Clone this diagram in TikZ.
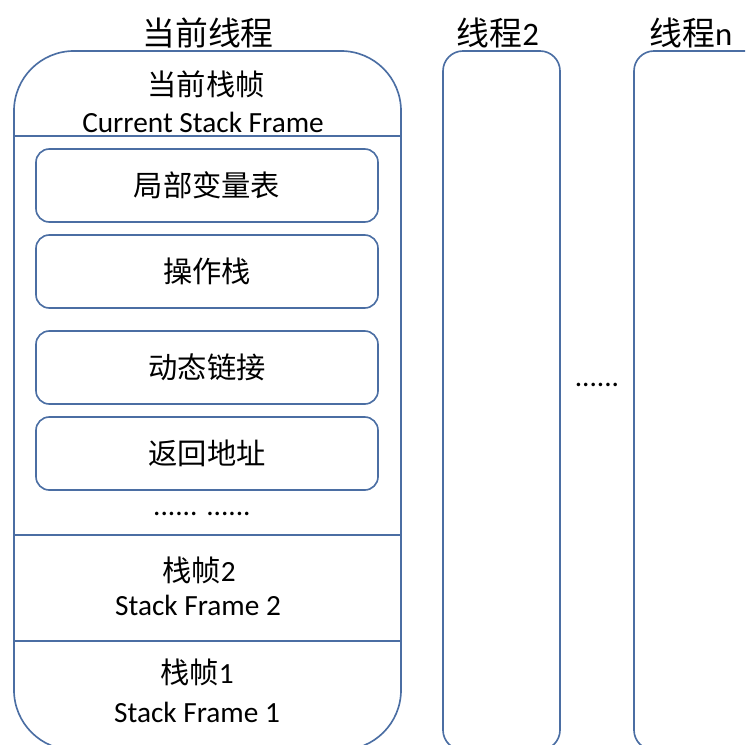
\documentclass[tikz,border=0pt]{standalone}
\usepackage{fontspec}
\setmainfont{Carlito}
\newfontfamily\cjk{Noto Sans CJK SC}
\definecolor{lineblue}{RGB}{75,110,163}
\begin{document}
\begin{tikzpicture}[x=0.03cm,y=-0.03cm]
\tikzset{
  framebox/.style={draw=lineblue, line width=1.4pt, inner sep=0pt},
  itembox/.style={draw=lineblue, line width=1.4pt, rounded corners=0.4cm,
    minimum width=10.26cm, minimum height=2.19cm, inner sep=0pt,
    font=\cjk\fontsize{25}{30}\selectfont},
  sepline/.style={draw=lineblue, line width=1.4pt},
  titletext/.style={inner sep=0pt, font=\fontsize{28}{32}\selectfont},
  labeltext/.style={inner sep=0pt, font=\fontsize{25}{30}\selectfont},
}
\useasboundingbox (0,0) rectangle (745,745);
\clip (0,0) rectangle (745,745);

% thread boxes
\node[framebox, rounded corners=1.8cm, minimum width=11.61cm, minimum height=20.97cm] (cur) at (207.5,400.5) {};
\node[framebox, rounded corners=0.6cm, minimum width=3.51cm, minimum height=20.97cm] (th2) at (501.5,400.5) {};
\node[framebox, rounded corners=0.6cm, minimum width=4.98cm, minimum height=20.97cm] (thn) at (717,400.5) {};

% titles
\node[titletext] (tcur) at (208,33) {\cjk 当前线程};
\node[titletext] (tth2) at (498,33) {{\cjk 线程}2};
\node[titletext] (tthn) at (691,33) {{\cjk 线程}n};

% current stack frame header
\node[labeltext] (cf1) at (206,84) {\cjk 当前栈帧};
\node[labeltext] (cf2) at (203,122) {Current Stack Frame};
\draw[sepline] (14,136) -- (401,136);

% items
\node[itembox] (lv) at (207,185.5) {局部变量表};
\node[itembox] (os) at (207,271.5) {操作栈};
\node[itembox] (dl) at (207,367.5) {动态链接};
\node[itembox] (ra) at (207,453.5) {返回地址};

\node[labeltext] (dots1) at (202,514) {...... ......};
\draw[sepline] (14,535) -- (401,535);

\node[labeltext] (sf2a) at (199,570) {{\cjk 栈帧}2};
\node[labeltext] (sf2b) at (198,605) {Stack Frame 2};
\draw[sepline] (14,641) -- (401,641);

\node[labeltext] (sf1a) at (197,672) {{\cjk 栈帧}1};
\node[labeltext] (sf1b) at (197,712) {Stack Frame 1};

\node[labeltext] (dots2) at (597,385) {......};
\end{tikzpicture}
\end{document}
